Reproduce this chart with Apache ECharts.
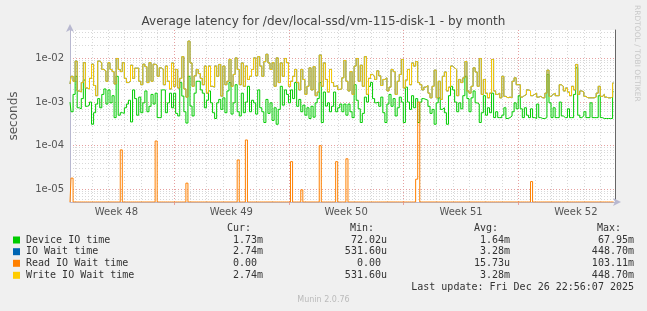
<!DOCTYPE html>
<html><head><meta charset="utf-8">
<script src="https://cdn.jsdelivr.net/npm/echarts@6/dist/echarts.min.js"></script>
<style>html,body{margin:0;padding:0;background:#f0f0f0}#c{width:647px;height:311px}</style>
</head><body><div id="c"></div>
<script>
// ---------- data ----------
const chartTitle = 'Average latency for /dev/local-ssd/vm-115-disk-1 - by month';
const startDay = -6.33;   // first sample, days relative to Mon 2025-12-01 00:00
const stepDay = 0.125;    // sample spacing in days
const xMinDay = -6.33, xMaxDay = 26.88;

// Device IO time (ms)
const deviceMs = [
1.0,0.6,1.5,3.9,0.74,0.7,1.2,3.2,0.8,0.85,1.0,0.31,0.57,0.9,1.2,0.74,1.5,2.0,0.9,1.9,0.96,1.4,0.44,3.9,0.5,0.57,0.55,0.74,0.9,1.1,0.35,1.9,1.2,0.5,1.3,0.57,0.96,1.8,0.6,0.8,1.5,0.9,1.6,0.44,
0.44,1.9,1.9,0.57,0.96,1.6,0.74,1.6,0.55,0.48,2.8,1.37,0.6,0.33,3.9,0.81,0.48,1.6,3.0,3.0,1.9,1.6,0.74,1.1,1.8,0.96,0.57,0.42,0.96,1.15,0.68,1.25,0.57,1.8,2.8,0.53,0.96,2.5,0.6,0.48,1.6,0.57,1.0,2.3,
0.6,1.1,0.96,0.53,1.9,0.74,0.6,0.34,1.15,0.55,0.96,0.38,0.74,0.31,0.68,2.3,0.85,1.9,1.5,0.96,1.9,1.2,2.8,0.8,1.15,0.6,0.85,0.5,0.74,0.42,0.8,0.45,0.96,1.2,2.8,0.34,1.7,0.81,0.96,0.6,0.8,1.7,0.6,0.74,
0.9,0.6,0.9,0.5,0.9,0.6,0.44,2.5,1.1,0.7,0.34,0.55,1.3,1.0,2.3,2.8,1.2,0.96,1.0,0.8,1.3,0.57,0.34,0.9,1.5,0.8,1.2,0.48,0.74,1.3,1.0,0.34,2.2,1.0,0.68,1.4,0.74,1.2,0.34,1.0,1.2,1.15,1.1,
0.8,0.55,0.68,0.31,0.96,1.25,0.68,0.74,0.57,0.31,1.4,2.3,1.9,1.0,0.6,0.96,0.7,1.4,3.9,1.2,0.6,1.25,1.8,0.96,0.9,0.34,0.57,1.4,0.5,0.74,0.57,1.6,0.44,0.6,0.44,0.44,0.5,0.74,0.42,0.44,0.48,0.6,0.96,0.7,
1.4,0.7,0.44,0.74,0.5,0.44,0.7,0.44,0.42,0.9,0.44,0.42,0.42,0.44,4.3,0.96,0.44,0.74,0.44,0.44,1.0,0.48,0.44,0.44,0.7,0.44,0.44,1.5,6.1,0.5,0.44,0.48,0.6,0.44,0.44,0.96,0.44,0.44,0.44,1.4,0.44,0.42,0.42,0.42,0.42,0.42,1.73
];
// Write IO Wait time (ms)
const writeMs = [
2.6,3.9,3.0,8.7,1.8,1.7,2.8,8.0,2.1,2.0,3.5,7.4,2.4,1.4,8.7,8.0,5.6,5.2,3.0,8.0,5.6,5.0,2.6,10.0,5.6,5.0,8.0,3.5,2.8,3.0,7.0,3.5,6.0,6.0,3.0,2.5,7.4,6.5,2.8,8.0,3.0,7.4,7.0,3.9,
6.1,5.6,2.5,6.7,3.0,2.0,7.9,2.3,5.6,2.1,3.5,11,2.0,1.3,25,7.9,2.3,4.0,5.6,4.5,3.5,2.5,6.7,1.6,6.7,2.3,2.2,6.7,3.9,7.3,1.37,6.7,2.5,3.0,9.5,2.3,4.3,10.3,5.6,2.5,7.9,2.3,6.7,3.3,
3.9,5.6,10.3,4.0,11,6.7,3.9,8.5,12.5,7.9,5.6,8.0,2.3,10.3,2.8,7.9,3.9,10,8.0,2.3,3.0,3.9,5.6,2.8,1.9,5.6,3.3,1.5,2.3,6.1,1.9,6.5,1.4,1.7,12,2.3,7.9,3.3,1.7,5.6,2.8,2.3,2.4,1.95,
2.0,3.6,9.0,3.0,1.8,5.0,1.5,6.7,10,3.0,7.0,2.3,11,1.5,3.5,4.3,3.9,3.3,5.2,4.0,2.4,3.3,3.6,1.8,2.2,5.6,5.0,1.5,3.0,4.3,9.5,2.1,3.2,5.6,2.5,7.9,6.7,8.5,2.8,2.5,1.9,2.2,2.4,
1.6,1.25,2.3,5.4,1.25,3.0,1.15,3.9,4.9,1.8,2.2,6.7,6.1,5.6,1.4,3.3,2.8,3.6,8.5,1.8,1.6,2.3,6.1,4.9,2.3,10,1.5,3.3,1.6,1.25,1.6,9.5,1.8,1.5,1.6,1.25,3.9,1.35,1.25,1.3,1.25,3.0,3.6,2.5,
2.5,1.3,1.4,1.5,1.9,1.8,1.4,1.5,1.6,1.3,1.35,1.25,1.25,1.6,5.4,1.35,1.5,1.6,1.4,1.4,2.5,2.3,1.8,2.1,1.7,1.4,2.3,1.9,7.3,1.5,1.8,1.7,1.35,1.25,1.25,1.25,1.25,1.3,1.6,2.3,1.35,1.5,1.3,1.25,1.25,1.3,2.74
];
// IO Wait time equals Write IO Wait time for this device
const ioWaitMs = writeMs;
// Read IO Wait time (ms)
const readMs = [
0,0.018,0,0,0,0,0,0,0,0,
0,0,0,0,0,0,0,0,0,0,
0,0,0,0,0,0.08,0,0,0,0,
0,0,0,0,0,0,0,0,0,0,
0,0,0.128,0,0,0,0,0,0,0,
0,0,0,0,0,0,0,0.0138,0,0,
0,0,0,0,0,0,0,0,0,0,
0,0,0,0,0,0,0,0,0,0,
0,0,0.047,0,0,0,0.135,0,0,0,
0,0,0,0,0,0,0,0,0,0,
0,0,0,0,0,0,0,0,0.043,0,
0,0,0,0.0097,0,0,0,0,0,0,
0,0,0.1,0,0,0,0,0,0,0,
0.043,0,0,0,0,0.05,0,0,0,0,
0,0,0,0,0,0,0,0,0,0,
0,0,0,0,0,0,0,0,0,0,
0,0,0,0,0,0,0,0,0,0.017,
1.0,0,0,0,0,0,0,0,0,0,
0,0,0,0,0,0,0,0,0,0,
0,0,0,0,0,0,0,0,0,0,
0,0,0,0,0,0,0,0,0,0,
0,0,0,0,0,0,0,0,0,0,
0,0,0,0,0,0.015,0,0,0,0,
0,0,0,0,0,0,0,0,0,0,
0,0,0,0,0,0,0,0,0,0,
0,0,0,0,0,0,0,0,0,0,
0,0,0,0,0,0
];
const weekStarts = [0, 7, 14, 21];
const weekCenters = [-3.5, 3.5, 10.5, 17.5, 24.5];
const weekLabels = ['Week 48', 'Week 49', 'Week 50', 'Week 51', 'Week 52'];
const yMin = 5.1e-6, yMax = 0.045;
const yMajor = [1e-5, 1e-4, 1e-3, 1e-2];

const legendNames = ['Device IO time', 'IO Wait time', 'Read IO Wait time', 'Write IO Wait time'];
const legendColors = ['#00cc00', '#0066b3', '#ff8000', '#ffcc00'];
const statCur = ['1.73m', '2.74m', '0.00 ', '2.74m'];
const statMin = ['72.02u', '531.60u', '0.00 ', '531.60u'];
const statAvg = ['1.64m', '3.28m', '15.73u', '3.28m'];
const statMax = ['67.95m', '448.70m', '103.11m', '448.70m'];
const lastUpdate = 'Last update: Fri Dec 26 22:56:07 2025';
const footer = 'Munin 2.0.76';
const sideText = 'RRDTOOL / TOBI OETIKER';

// ---------- build ----------
const dayTicks = [];
for (let d = Math.ceil(xMinDay); d <= Math.floor(xMaxDay); d++) dayTicks.push(d);
const yMinor = [];
for (let e = -6; e <= -1; e++) for (let m = 2; m <= 9; m++) {
  const v = m * Math.pow(10, e);
  if (v > yMin && v < yMax) yMinor.push(v);
}
const toSeries = (arr) => arr.map((v, i) => [startDay + i * stepDay, Math.max(v / 1000, yMin)]);

const mono = 'DejaVu Sans Mono';
const sans = 'DejaVu Sans';
const txtColor = '#333';
const graphics = [];
function txt(x, y, text, align, extra) {
  graphics.push({
    type: 'text', x: x, y: y, silent: true,
    style: Object.assign({ text: text, x: 0, y: 0, fill: txtColor, font: '10px ' + mono, textAlign: align || 'left', textVerticalAlign: 'middle' }, extra || {})
  });
}
txt(251, 228, 'Cur:', 'right');
txt(374, 228, 'Min:', 'right');
txt(498, 228, 'Avg:', 'right');
txt(621, 228, 'Max:', 'right');
const rowY = [240, 251.7, 263.3, 275.3];
for (let k = 0; k < 4; k++) {
  graphics.push({ type: 'rect', silent: true, shape: { x: 13, y: rowY[k] - 3.5, width: 7, height: 7 }, style: { fill: legendColors[k] } });
  txt(26, rowY[k], legendNames[k], 'left');
  txt(263, rowY[k], statCur[k], 'right');
  txt(387, rowY[k], statMin[k], 'right');
  txt(510, rowY[k], statAvg[k], 'right');
  txt(634, rowY[k], statMax[k], 'right');
}
txt(634, 287.5, lastUpdate, 'right');
txt(323.5, 300, footer, 'center', { fill: '#bbb', font: '8px ' + sans });
graphics.push({ type: 'text', x: 637, y: 5, rotation: -Math.PI / 2, silent: true,
  style: { text: sideText, x: 0, y: 0, fill: '#c8c8c8', font: '7.5px ' + sans, textAlign: 'left', textVerticalAlign: 'middle' } });

const gridGray = '#d8d8d8';
const gridRed = '#e6a0a0';
const axisCol = '#b8b8d0';

const chart = echarts.init(document.getElementById('c'), null, { renderer: 'canvas' });
chart.setOption({
  animation: false,
  backgroundColor: '#f0f0f0',
  title: { text: chartTitle, left: 'center', top: 11, textStyle: { fontFamily: sans, fontSize: 12, fontWeight: 'normal', color: '#444' } },
  grid: { left: 67, right: 32, top: 30, bottom: 109, show: true, backgroundColor: '#ffffff', borderWidth: 0 },
  xAxis: [
    { type: 'value', min: xMinDay, max: xMaxDay, position: 'bottom',
      axisLine: { show: true, onZero: false, lineStyle: { color: axisCol }, symbol: ['none', 'arrow'], symbolSize: [6, 8], symbolOffset: [0, 6] },
      axisTick: { show: false, customValues: dayTicks },
      axisLabel: { show: false },
      splitLine: { show: true, lineStyle: { color: gridGray, type: [1, 2], width: 1 } } },
    { type: 'value', min: xMinDay, max: xMaxDay, position: 'bottom',
      axisLine: { show: false, onZero: false },
      axisTick: { show: true, length: 3, inside: false, customValues: weekStarts, lineStyle: { color: gridRed } },
      axisLabel: { show: true, customValues: weekCenters, margin: 5, fontFamily: sans, fontSize: 10, color: '#555',
        formatter: (v) => { const k = weekCenters.findIndex(c => Math.abs(c - v) < 1e-6); return k >= 0 ? weekLabels[k] : ''; } },
      splitLine: { show: true, lineStyle: { color: gridRed, type: [1, 2], width: 1 } } }
  ],
  yAxis: [
    { type: 'log', logBase: 10, min: yMin, max: yMax, position: 'left',
      name: 'seconds', nameLocation: 'middle', nameGap: 50, nameTextStyle: { fontFamily: sans, fontSize: 12, color: '#555' },
      axisLine: { show: true, onZero: false, lineStyle: { color: axisCol }, symbol: ['none', 'arrow'], symbolSize: [6, 8], symbolOffset: [0, 6] },
      axisTick: { show: false, customValues: yMajor },
      axisLabel: { show: true, customValues: yMajor, margin: 6, fontFamily: sans, fontSize: 10, color: '#555',
        formatter: (v) => { const e = Math.round(Math.log10(v)); return '1e' + (e < 0 ? '-' : '+') + String(Math.abs(e)).padStart(2, '0'); } },
      splitLine: { show: true, lineStyle: { color: gridRed, type: [1, 2], width: 1 } } },
    { type: 'log', logBase: 10, min: yMin, max: yMax, position: 'right',
      axisLine: { show: true, onZero: false, lineStyle: { color: '#666' } },
      axisTick: { show: false, customValues: yMinor },
      axisLabel: { show: false },
      splitLine: { show: true, lineStyle: { color: gridGray, type: [1, 2], width: 1 } } }
  ],
  series: [
    { name: legendNames[0], type: 'line', step: 'middle', showSymbol: false, data: toSeries(deviceMs), lineStyle: { color: legendColors[0], width: 1 }, itemStyle: { color: legendColors[0] } },
    { name: legendNames[1], type: 'line', step: 'middle', showSymbol: false, data: toSeries(ioWaitMs), lineStyle: { color: legendColors[1], width: 1 }, itemStyle: { color: legendColors[1] } },
    { name: legendNames[2], type: 'line', step: 'middle', showSymbol: false, data: toSeries(readMs), lineStyle: { color: legendColors[2], width: 1 }, itemStyle: { color: legendColors[2] } },
    { name: legendNames[3], type: 'line', step: 'middle', showSymbol: false, data: toSeries(writeMs), lineStyle: { color: legendColors[3], width: 1 }, itemStyle: { color: legendColors[3] } }
  ],
  graphic: graphics
});
</script></body></html>
